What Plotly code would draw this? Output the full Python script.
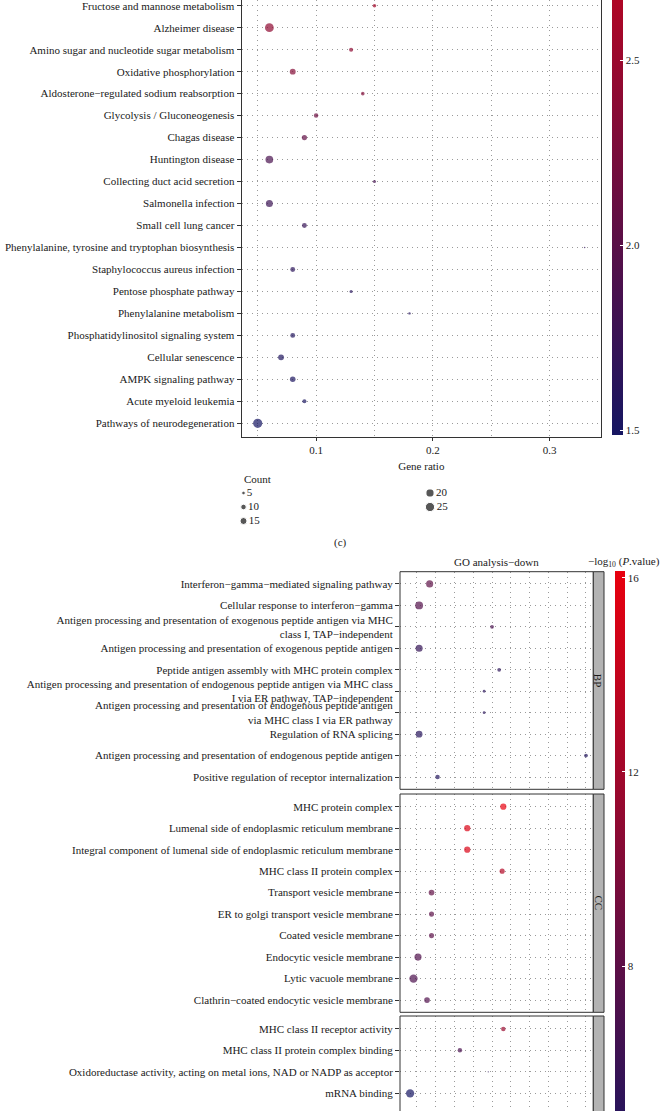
import numpy as np
import plotly.graph_objects as go

W, H = 660, 1111
FONT = "Liberation Serif"
TXT = "#1a1a1a"

# ---------------- KEGG (panel c) ----------------
kegg_terms = [
    "Fructose and mannose metabolism",
    "Alzheimer disease",
    "Amino sugar and nucleotide sugar metabolism",
    "Oxidative phosphorylation",
    "Aldosterone\u2212regulated sodium reabsorption",
    "Glycolysis / Gluconeogenesis",
    "Chagas disease",
    "Huntington disease",
    "Collecting duct acid secretion",
    "Salmonella infection",
    "Small cell lung cancer",
    "Phenylalanine, tyrosine and tryptophan biosynthesis",
    "Staphylococcus aureus infection",
    "Pentose phosphate pathway",
    "Phenylalanine metabolism",
    "Phosphatidylinositol signaling system",
    "Cellular senescence",
    "AMPK signaling pathway",
    "Acute myeloid leukemia",
    "Pathways of neurodegeneration",
]
kegg_ratio = [0.15, 0.06, 0.13, 0.08, 0.14, 0.10, 0.09, 0.06, 0.15, 0.06,
              0.09, 0.33, 0.08, 0.13, 0.18, 0.08, 0.07, 0.08, 0.09, 0.05]
kegg_count = [5, 23, 6, 11, 5, 7, 9, 18, 4, 15,
              8, 2, 8, 4, 3, 8, 11, 10, 6, 25]
kegg_logp = [2.56, 2.42, 2.40, 2.33, 2.30, 2.14, 2.06, 1.88, 1.84, 1.77,
             1.73, 1.69, 1.65, 1.62, 1.60, 1.58, 1.56, 1.54, 1.52, 1.49]
kegg_size_breaks = [5, 10, 15, 20, 25]
kegg_cbar_ticks = [1.5, 2.0, 2.5]

# ---------------- GO analysis-down ----------------
bp_terms = [
    "Interferon\u2212gamma\u2212mediated signaling pathway",
    "Cellular response to interferon\u2212gamma",
    "Antigen processing and presentation of exogenous peptide antigen via MHC\nclass I, TAP\u2212independent",
    "Antigen processing and presentation of exogenous peptide antigen",
    "Peptide antigen assembly with MHC protein complex",
    "Antigen processing and presentation of endogenous peptide antigen via MHC class\nI via ER pathway, TAP\u2212independent",
    "Antigen processing and presentation of endogenous peptide antigen\nvia MHC class I via ER pathway",
    "Regulation of RNA splicing",
    "Antigen processing and presentation of endogenous peptide antigen",
    "Positive regulation of receptor internalization",
]
bp_ratio = [0.134, 0.106, 0.300, 0.106, 0.319, 0.279, 0.279, 0.106, 0.550, 0.155]
bp_count = [10, 12, 4, 10, 4, 3, 3, 9, 4, 5]
bp_logp = [8.0, 7.4, 6.8, 5.6, 5.2, 5.0, 5.0, 4.9, 4.6, 4.6]

cc_terms = [
    "MHC protein complex",
    "Lumenal side of endoplasmic reticulum membrane",
    "Integral component of lumenal side of endoplasmic reticulum membrane",
    "MHC class II protein complex",
    "Transport vesicle membrane",
    "ER to golgi transport vesicle membrane",
    "Coated vesicle membrane",
    "Endocytic vesicle membrane",
    "Lytic vacuole membrane",
    "Clathrin\u2212coated endocytic vesicle membrane",
]
cc_ratio = [0.330, 0.234, 0.234, 0.327, 0.139, 0.139, 0.139, 0.103, 0.091, 0.127]
cc_count = [8, 8, 8, 6, 7, 6, 6, 10, 13, 7]
cc_logp = [16.14, 15.3, 15.3, 13.0, 8.3, 7.9, 7.9, 7.3, 7.0, 7.3]

mf_terms = [
    "MHC class II receptor activity",
    "MHC class II protein complex binding",
    "Oxidoreductase activity, acting on metal ions, NAD or NADP as acceptor",
    "mRNA binding",
]
mf_ratio = [0.330, 0.2145, 0.290, 0.082]
mf_count = [5, 5, 2, 13]
mf_logp = [11.5, 6.8, 5.0, 3.9]
mf_cut_label = "snRNA binding"
go_strips = ["BP", "CC"]
go_cbar_ticks = [4, 8, 12, 16]

LOW, HIGH = "#161662", "#E8000E"


# ---------------- helpers ----------------
def px_x(v):
    return v / W


def px_y(v):
    return 1 - v / H


def size_map(counts, cmin, cmax, dmax):
    c = np.asarray(counts, dtype=float)
    return dmax * np.sqrt((1 + 35 * (c - cmin) / (cmax - cmin)) / 36)


def nl(labels):
    return [s.replace("\n", "<br>") for s in labels]


SCALE = [[0, LOW], [1, HIGH]]
tfont = dict(family=FONT, size=11, color=TXT)
GRIDC = "#9a9a9a"
GDASH = "1px,4px"

fig = go.Figure()

# ---------------- KEGG panel ----------------
kmin, kmax = min(kegg_count), max(kegg_count)
fig.add_trace(go.Scatter(
    x=kegg_ratio, y=kegg_terms, mode="markers",
    marker=dict(size=size_map(kegg_count, kmin, kmax, 9.2),
                color=kegg_logp, coloraxis="coloraxis", line=dict(width=0)),
    xaxis="x", yaxis="y", showlegend=False, hoverinfo="skip"))

# size legend
fig.add_trace(go.Scatter(
    x=[i // 3 for i in range(len(kegg_size_breaks))],
    y=[-(i % 3) for i in range(len(kegg_size_breaks))],
    mode="markers+text",
    text=[str(b) for b in kegg_size_breaks],
    textposition="middle right", textfont=tfont,
    marker=dict(size=size_map(kegg_size_breaks, kmin, kmax, 9.2), color="#111111"),
    xaxis="x5", yaxis="y5", showlegend=False, cliponaxis=False, hoverinfo="skip"))

# ---------------- GO panels ----------------
go_all_counts = bp_count + cc_count + mf_count
gmin, gmax = min(go_all_counts), max(go_all_counts)
for terms, ratio, count, logp, ax in [
        (bp_terms, bp_ratio, bp_count, bp_logp, "2"),
        (cc_terms, cc_ratio, cc_count, cc_logp, "3"),
        (mf_terms, mf_ratio, mf_count, mf_logp, "4")]:
    fig.add_trace(go.Scatter(
        x=ratio, y=nl(terms), mode="markers",
        marker=dict(size=size_map(count, gmin, gmax, 8.3),
                    color=logp, coloraxis="coloraxis2", line=dict(width=0)),
        xaxis="x" + ax, yaxis="y" + ax, showlegend=False, hoverinfo="skip"))

# ---------------- axes ----------------
grid = dict(showgrid=True, gridcolor=GRIDC, gridwidth=1, griddash=GDASH, zeroline=False)

kegg_xdom = [px_x(241.7), px_x(601)]
go_xdom = [px_x(400), px_x(593.3)]

layout_axes = dict(
    xaxis=dict(domain=kegg_xdom, range=[0.0363, 0.344], anchor="y",
               tick0=0, dtick=0.1, ticks="outside", ticklen=3, tickcolor="#333",
               tickfont=tfont, showline=True, linecolor="#333", linewidth=1,
               minor=dict(tick0=0, dtick=0.05, showgrid=True, gridcolor=GRIDC,
                          griddash=GDASH, gridwidth=1, ticks=""),
               title=dict(text="Gene ratio", font=tfont, standoff=7),
               automargin=False, **grid),
    yaxis=dict(domain=[px_y(436.7), 1], type="category", categoryorder="array",
               categoryarray=kegg_terms[::-1],
               range=[-0.61, len(kegg_terms) - 1 + 0.26], anchor="x",
               ticks="outside", ticklen=4, tickcolor="#333", tickfont=tfont,
               showline=True, mirror=True, linecolor="#333", linewidth=1.2,
               automargin=False, **grid),
    xaxis5=dict(domain=[px_x(243.5), px_x(430)], range=[0, 1], visible=False,
                anchor="y5", fixedrange=True),
    yaxis5=dict(domain=[px_y(521), px_y(493)], range=[-2, 0], visible=False,
                anchor="x5", fixedrange=True),
)

go_y = {
    "2": (bp_terms, [px_y(789.3), px_y(571.7)], [-0.57, len(bp_terms) - 1 + 0.57]),
    "3": (cc_terms, [px_y(1012.3), px_y(794)], [-0.57, len(cc_terms) - 1 + 0.59]),
    "4": (mf_terms, [0, px_y(1016)], [-0.823, len(mf_terms) - 1 + 0.6]),
}
for ax, (terms, dom, rng) in go_y.items():
    layout_axes["xaxis" + ax] = dict(domain=go_xdom, range=[0.0551, 0.5695],
                                     anchor="y" + ax, tick0=0, dtick=0.05,
                                     showticklabels=False, ticks="", showline=False,
                                     automargin=False, **grid)
    layout_axes["yaxis" + ax] = dict(domain=dom, type="category", categoryorder="array",
                                     categoryarray=nl(terms)[::-1], range=rng,
                                     anchor="x" + ax, ticks="outside", ticklen=4,
                                     tickcolor="#333", tickfont=tfont, showline=False,
                                     automargin=False, **grid)

fig.update_layout(**layout_axes)

# ---------------- colour axes ----------------
k_cmin, k_cmax = 1.487, 3.1
g_cmin, g_cmax = min(mf_logp + bp_logp + cc_logp), max(mf_logp + bp_logp + cc_logp)
fig.update_layout(
    coloraxis=dict(
        colorscale=SCALE, cmin=k_cmin, cmax=k_cmax,
        colorbar=dict(thickness=10.6, thicknessmode="pixels",
                      len=(k_cmax - k_cmin) * 370 / H, lenmode="fraction",
                      x=px_x(611.7), xanchor="left", y=px_y(435), yanchor="bottom",
                      xpad=0, ypad=0, outlinewidth=0,
                      tickvals=kegg_cbar_ticks, ticktext=["%.1f" % v for v in kegg_cbar_ticks],
                      ticks="inside", ticklen=3, tickcolor="white", tickwidth=1,
                      tickfont=tfont)),
    coloraxis2=dict(
        colorscale=SCALE, cmin=g_cmin, cmax=g_cmax,
        colorbar=dict(thickness=10, thicknessmode="pixels",
                      len=(g_cmax - g_cmin) * 48.5 / H, lenmode="fraction",
                      x=px_x(615), xanchor="left", y=px_y(571), yanchor="top",
                      xpad=0, ypad=0, outlinewidth=0,
                      tickvals=go_cbar_ticks, ticktext=[str(v) for v in go_cbar_ticks],
                      ticks="inside", ticklen=3, tickcolor="white", tickwidth=1,
                      tickfont=tfont)),
)

# ---------------- panel borders and strips ----------------
strip_w = 10.7 / (593.3 - 400)
shapes = []
for ax, bottom in [("2", 0), ("3", 0), ("4", -0.6)]:
    shapes.append(dict(type="rect", xref="x%s domain" % ax, yref="y%s domain" % ax,
                       x0=0, x1=1, y0=bottom, y1=1,
                       line=dict(color="#333", width=1), fillcolor="rgba(0,0,0,0)",
                       layer="above"))
    shapes.append(dict(type="rect", xref="x%s domain" % ax, yref="y%s domain" % ax,
                       x0=1, x1=1 + strip_w, y0=bottom, y1=1,
                       line=dict(color="#333", width=1), fillcolor="#b3b3b3",
                       layer="above"))

annotations = []
for ax, lab in zip(["2", "3"], go_strips):
    annotations.append(dict(text=lab, xref="x%s domain" % ax, yref="y%s domain" % ax,
                            x=1 + strip_w / 2, y=0.5, showarrow=False, textangle=90,
                            font=tfont, xanchor="center", yanchor="middle"))

# cut-off MF label (row just below the figure edge)
mf_dom, mf_rng = go_y["4"][1], go_y["4"][2]
cut_y = mf_dom[0] + (-1 - mf_rng[0]) / (mf_rng[1] - mf_rng[0]) * (mf_dom[1] - mf_dom[0])
annotations.append(dict(text=mf_cut_label, xref="x4 domain", yref="paper", x=0, y=cut_y,
                        xanchor="right", yanchor="middle", xshift=-8, showarrow=False,
                        font=tfont))

annotations += [
    dict(text="Count", xref="paper", yref="paper", x=px_x(241.7), y=px_y(479),
         xanchor="left", yanchor="middle", showarrow=False, font=tfont),
    dict(text="(c)", xref="paper", yref="paper", x=px_x(340), y=px_y(542.7),
         xanchor="center", yanchor="middle", showarrow=False, font=tfont),
    dict(text="GO analysis\u2212down", xref="x2 domain", yref="paper", x=0.5, y=px_y(561.7),
         xanchor="center", yanchor="middle", showarrow=False, font=tfont),
    dict(text="\u2212log<sub>10</sub> (<i>P</i>.value)", xref="paper", yref="paper",
         x=px_x(586), y=px_y(562), xanchor="left", yanchor="middle", showarrow=False,
         font=tfont),
]

fig.update_layout(
    width=W, height=H, template="none",
    margin=dict(l=0, r=0, t=0, b=0, pad=0, autoexpand=False),
    paper_bgcolor="white", plot_bgcolor="white",
    font=dict(family=FONT, size=11, color=TXT),
    showlegend=False, shapes=shapes, annotations=annotations,
)

fig.write_html("out.html", config={"displayModeBar": False},
               post_script="document.body.style.margin='0';document.body.style.overflow='hidden';")
